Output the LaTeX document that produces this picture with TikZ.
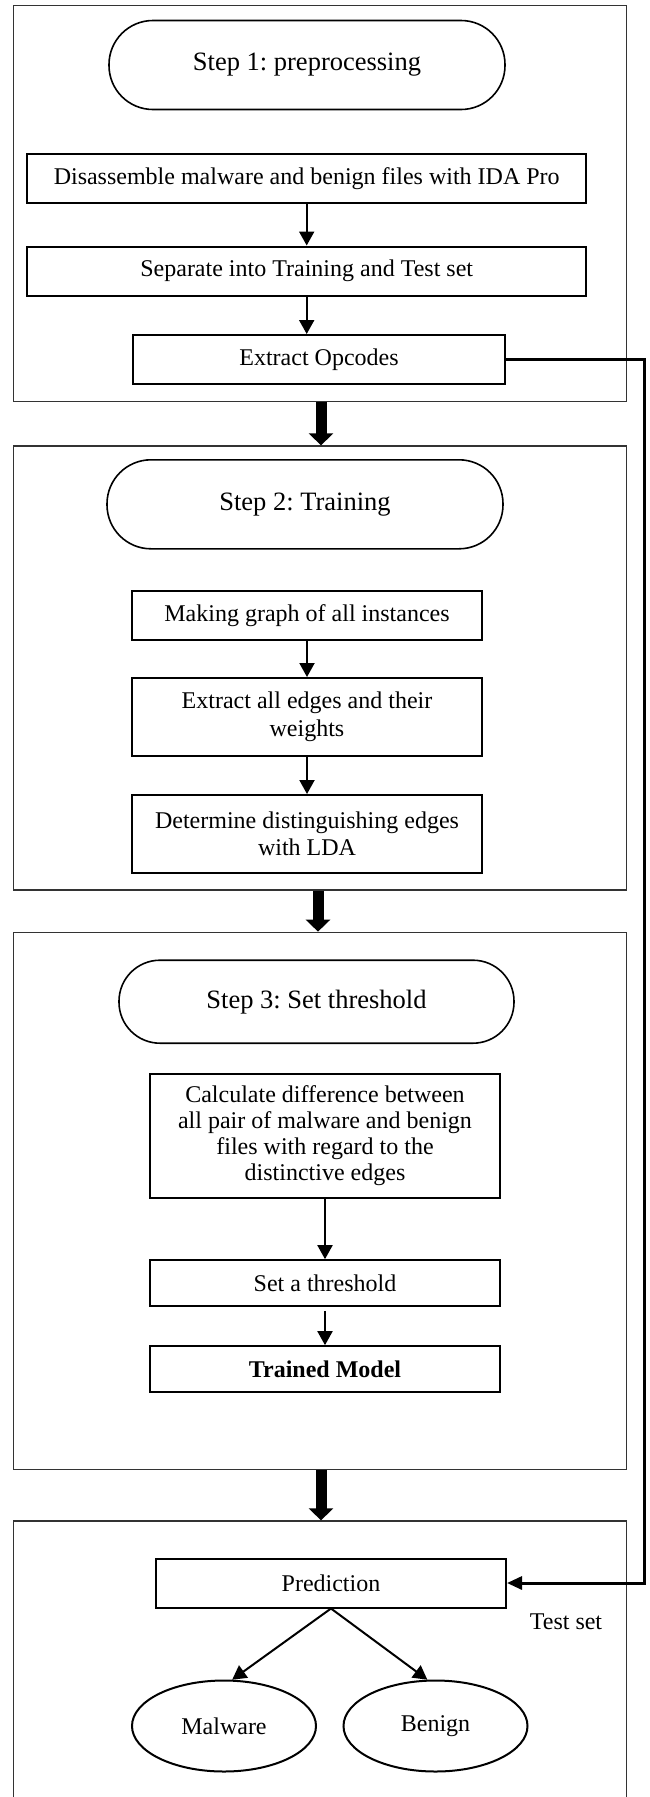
\documentclass[tikz,border=0pt]{standalone}
\usepackage{fontspec}
\setmainfont{Liberation Serif}
\usetikzlibrary{arrows.meta,shapes.geometric}
\frenchspacing

\begin{document}
\begin{tikzpicture}[x=1pt,y=-1pt,
  frame/.style={draw=black!80, line width=1.3pt, minimum width=612.6pt},
  stadium/.style={draw, line width=1.6pt, rounded corners=44pt, minimum width=396pt, minimum height=89pt, font=\fontsize{26.5}{30}\selectfont},
  stepbox/.style={draw, line width=2pt, align=center, font=\fontsize{24}{27.5}\selectfont},
  leaf/.style={draw, ellipse, line width=2pt, minimum width=184pt, minimum height=91pt, font=\fontsize{24}{27.5}\selectfont},
  arr/.style={line width=2pt, -{Triangle[width=15pt,length=14pt]}},
  bigarr/.style={line width=11pt, -{Triangle[width=24pt,length=12pt]}},
]
\useasboundingbox (0,0) rectangle (649,1797);

% the four stages
\node[frame, minimum height=396pt] (f1) at (320,203.5) {};
\node[frame, minimum height=444pt] (f2) at (320,668) {};
\node[frame, minimum height=537pt] (f3) at (320,1200.8) {};
\node[frame, minimum height=300pt] (f4) at (320,1671) {};

% step 1
\node[stadium] (s1) at (307,65) {Step 1: preprocessing};
\node[stepbox, minimum width=559pt, minimum height=49pt] (dis) at (306.7,178.7) {Disassemble malware and benign files with IDA Pro};
\node[stepbox, minimum width=559pt, minimum height=49pt] (sep) at (306.7,271) {Separate into Training and Test set};
\node[stepbox, minimum width=372pt, minimum height=49pt] (opc) at (319,359.5) {Extract Opcodes};
\draw[arr] (dis) -- (sep);
\draw[arr] (sep) -- (sep |- opc.north);

% step 2
\node[stadium] (s2) at (305,504.3) {Step 2: Training};
\node[stepbox, minimum width=350.6pt, minimum height=49.7pt] (graph) at (307,615.5) {Making graph of all instances};
\node[stepbox, minimum width=350.6pt, minimum height=78pt] (edges) at (307,717) {Extract all edges and their\\ weights};
\node[stepbox, minimum width=350.6pt, minimum height=78pt] (lda) at (307,834) {Determine distinguishing edges\\ with LDA};
\draw[arr] (graph) -- (edges);
\draw[arr] (edges) -- (lda);

% step 3
\node[stadium, rounded corners=41pt, minimum width=395pt, minimum height=83pt] (s3) at (316.5,1001.7) {Step 3: Set threshold};
\node[stepbox, minimum width=350.6pt, minimum height=124pt, font=\fontsize{24}{25.8}\selectfont] (calc) at (325,1135.5) {Calculate difference between\\ all pair of malware and benign\\ files with regard to the\\ distinctive edges};
\node[stepbox, minimum width=350.6pt, minimum height=45.7pt] (thr) at (325,1283) {Set a threshold};
\node[stepbox, minimum width=350.6pt, minimum height=45.7pt] (model) at (325,1369) {\textbf{Trained Model}};
\draw[arr] (calc) -- (thr);
\draw[arr, shorten <=4pt] (thr) -- (model);

% prediction
\node[stepbox, minimum width=350pt, minimum height=49pt] (pred) at (331,1583) {Prediction};
\node[leaf] (mal) at (224,1726) {Malware};
\node[leaf] (ben) at (435.5,1726) {Benign};
\node[font=\fontsize{24}{27.5}\selectfont] (testlbl) at (566,1622) {Test set};
\draw[arr] (pred.south) -- (mal.80);
\draw[arr] (pred.south) -- (ben.100);

% between the stages
\draw[bigarr] ([xshift=1pt]f1.south) -- ([xshift=1pt]f2.north);
\draw[bigarr] ([xshift=-2pt]f2.south) -- ([xshift=-2pt]f3.north);
\draw[bigarr] ([xshift=1pt]f3.south) -- ([xshift=1pt]f4.north);

% test set goes straight to prediction
\coordinate (bend) at (644,357);
\draw[line width=3pt, -{Triangle[width=13pt,length=15pt]}] (opc.east) -- (opc.east -| bend) |- (pred.east);
\end{tikzpicture}
\end{document}
